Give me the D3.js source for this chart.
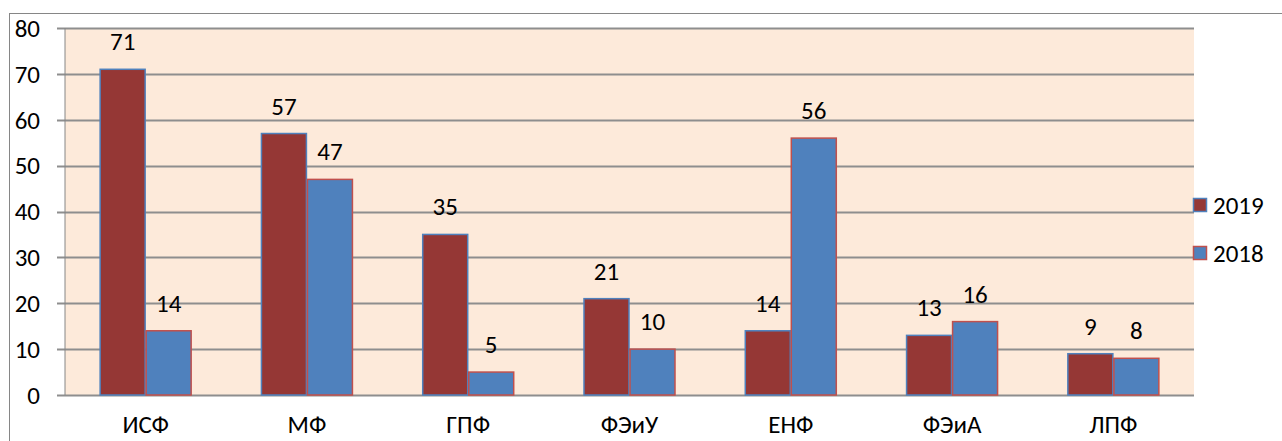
<!DOCTYPE html>
<html><head><meta charset="utf-8">
<script src="https://cdn.jsdelivr.net/npm/d3@7"></script>
<style>body{margin:0;background:#fff}svg{display:block}text{font-family:Carlito,Calibri,"Open Sans","Liberation Sans",sans-serif}</style>
</head><body>
<script>
const categories = ["ИСФ","МФ","ГПФ","ФЭиУ","ЕНФ","ФЭиА","ЛПФ"];
const series = ["2019","2018"];
const values2019 = [71,57,35,21,14,13,9];
const values2018 = [14,47,5,10,56,16,8];
const yTicks = [0,10,20,30,40,50,60,70,80];

const W=1282,H=441;
const FS=25;
const svg=d3.select("body").append("svg").attr("width",W).attr("height",H);
const pLeft=65,pRight=1194,pTop=28,pBottom=395;
const fills={"2019":"#953735","2018":"#4F81BD"};
const strokes={"2019":"#4F81BD","2018":"#C0504D"};

svg.append("rect").attr("x",9.5).attr("y",13.5).attr("width",W).attr("height",H).attr("fill","none").attr("stroke","#868686");
svg.append("rect").attr("x",pLeft).attr("y",pTop).attr("width",pRight-pLeft).attr("height",pBottom-pTop).attr("fill","#FDEADA");

const x=d3.scaleBand().domain(categories).range([pLeft,pRight]).paddingInner(0).paddingOuter(0);
const xs=d3.scaleBand().domain(series).range([0,x.bandwidth()]).paddingInner(0).paddingOuter(0.753);
const y=d3.scaleLinear().domain([0,80]).range([pBottom,pTop]);

svg.append("g").selectAll("line").data(yTicks).join("line")
 .attr("x1",pLeft-8).attr("x2",pRight).attr("y1",d=>Math.round(y(d))+0.5).attr("y2",d=>Math.round(y(d))+0.5)
 .attr("stroke","#8e8e8e").attr("stroke-width",1.8);
svg.append("line").attr("x1",pLeft).attr("x2",pLeft).attr("y1",pTop).attr("y2",pBottom).attr("stroke","#868686");

svg.append("g").selectAll("text").data(yTicks).join("text")
 .attr("x",40).attr("y",d=>y(d)).attr("dy","0.35em").attr("text-anchor","end")
 .attr("font-size",FS).attr("fill","#000").text(d=>d);

const data=categories.map((c,i)=>({c,vals:[{s:"2019",v:values2019[i]},{s:"2018",v:values2018[i]}]}));
const g=svg.append("g").selectAll("g").data(data).join("g").attr("transform",d=>`translate(${x(d.c)},0)`);
g.selectAll("rect").data(d=>d.vals).join("rect")
 .attr("x",d=>xs(d.s)+0.5).attr("width",xs.bandwidth()-1)
 .attr("y",d=>y(d.v)).attr("height",d=>pBottom-y(d.v))
 .attr("fill",d=>fills[d.s]).attr("stroke",d=>strokes[d.s]).attr("stroke-width",1.5);
g.selectAll("text").data(d=>d.vals).join("text")
 .attr("x",d=>xs(d.s)+xs.bandwidth()/2).attr("y",d=>y(d.v)-19)
 .attr("text-anchor","middle").attr("font-size",FS).attr("fill","#000").text(d=>d.v);

svg.append("g").selectAll("text").data(categories).join("text")
 .attr("x",d=>x(d)+x.bandwidth()/2).attr("y",433).attr("text-anchor","middle")
 .attr("font-size",FS).attr("fill","#000").text(d=>d);

const leg=svg.append("g").selectAll("g").data(series).join("g")
 .attr("transform",(d,i)=>`translate(1193,${205+i*48})`);
leg.append("rect").attr("x",0.5).attr("y",-6.5).attr("width",13).attr("height",13)
 .attr("fill",d=>fills[d]).attr("stroke",d=>strokes[d]).attr("stroke-width",1.5);
leg.append("text").attr("x",20).attr("y",0).attr("dy","0.35em").attr("font-size",FS).attr("fill","#000").text(d=>d);
</script>
</body></html>
